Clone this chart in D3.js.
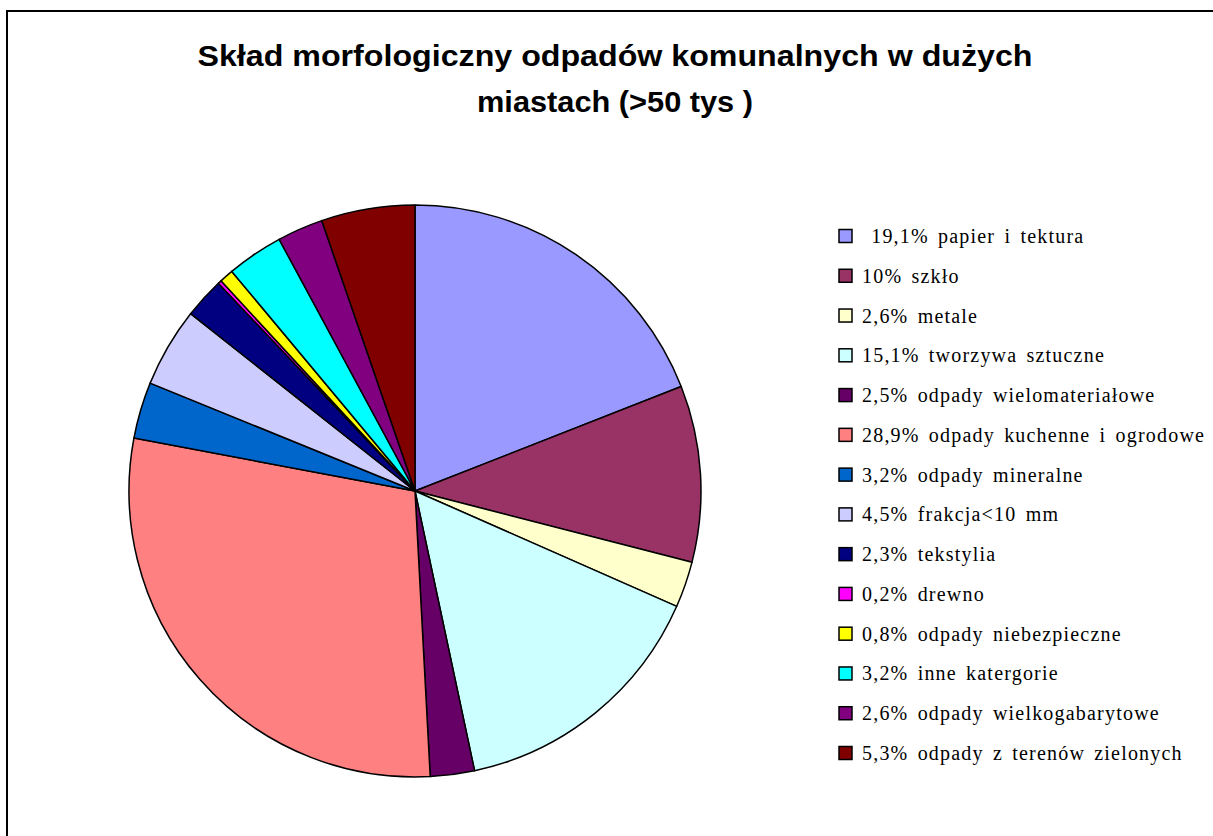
<!DOCTYPE html>
<html>
<head>
<meta charset="utf-8">
<script src="https://cdn.jsdelivr.net/npm/d3@7"></script>
<style>
  body { margin: 0; background: #fff; }
</style>
</head>
<body>
<svg id="chart" width="1213" height="836"></svg>
<script>
var labels = [" 19,1% papier i tektura", "10% szkło", "2,6% metale", "15,1% tworzywa sztuczne",
  "2,5% odpady wielomateriałowe", "28,9% odpady kuchenne i ogrodowe", "3,2% odpady mineralne",
  "4,5% frakcja<10 mm", "2,3% tekstylia", "0,2% drewno", "0,8% odpady niebezpieczne",
  "3,2% inne katergorie", "2,6% odpady wielkogabarytowe", "5,3% odpady z terenów zielonych"];
var values = [19.1, 10, 2.6, 15.1, 2.5, 28.9, 3.2, 4.5, 2.3, 0.2, 0.8, 3.2, 2.6, 5.3];
var colors = ["#9999FF", "#993366", "#FFFFCC", "#CCFFFF", "#660066", "#FF8080", "#0066CC",
  "#CCCCFF", "#000080", "#FF00FF", "#FFFF00", "#00FFFF", "#800080", "#800000"];
var titleLines = ["Skład morfologiczny odpadów komunalnych w dużych", "miastach (>50 tys )"];

var svg = d3.select("#chart");

// frame of the chart area (runs off the right and bottom edges)
svg.append("rect")
  .attr("x", 7).attr("y", 11)
  .attr("width", 1230).attr("height", 850)
  .attr("fill", "none")
  .attr("stroke", "#000")
  .attr("stroke-width", 2);

// title is drawn a bit wider than plain Arial, like the original
var titleWidths = [835, 276];
svg.append("g")
  .selectAll("text")
  .data(titleLines)
  .enter().append("text")
  .attr("x", 615)
  .attr("y", (d, i) => 66 + i * 46)
  .attr("text-anchor", "middle")
  .attr("textLength", (d, i) => titleWidths[i])
  .attr("lengthAdjust", "spacingAndGlyphs")
  .style("font-family", "'Liberation Sans', Arial, sans-serif")
  .style("font-weight", "bold")
  .style("font-size", "29px")
  .text(d => d);

var cx = 415, cy = 491, r = 286;

var pie = d3.pie().sort(null).value(d => d);
var arc = d3.arc().innerRadius(0).outerRadius(r);

var color = d3.scaleOrdinal().domain(d3.range(values.length)).range(colors);

svg.append("g")
  .attr("transform", `translate(${cx},${cy})`)
  .selectAll("path")
  .data(pie(values))
  .enter().append("path")
  .attr("d", arc)
  .attr("fill", (d, i) => color(i))
  .attr("stroke", "#000")
  .attr("stroke-width", 1.5)
  .attr("stroke-linejoin", "round");

var ly = d3.scaleLinear().domain([0, labels.length - 1]).range([236, 753]);

var legend = svg.append("g")
  .selectAll("g")
  .data(labels)
  .enter().append("g")
  .attr("transform", (d, i) => `translate(839,${ly(i)})`);

legend.append("rect")
  .attr("x", 0).attr("y", -6.5)
  .attr("width", 13).attr("height", 13)
  .attr("fill", (d, i) => color(i))
  .attr("stroke", "#000")
  .attr("stroke-width", 1.5);

legend.append("text")
  .attr("x", 23)
  .attr("y", 7)
  .style("font-family", "'Liberation Serif', 'Times New Roman', serif")
  .style("font-size", "20px")
  .style("letter-spacing", "1.2px")
  .style("word-spacing", "3px")
  .style("white-space", "pre")
  .text(d => d);
</script>
</body>
</html>
